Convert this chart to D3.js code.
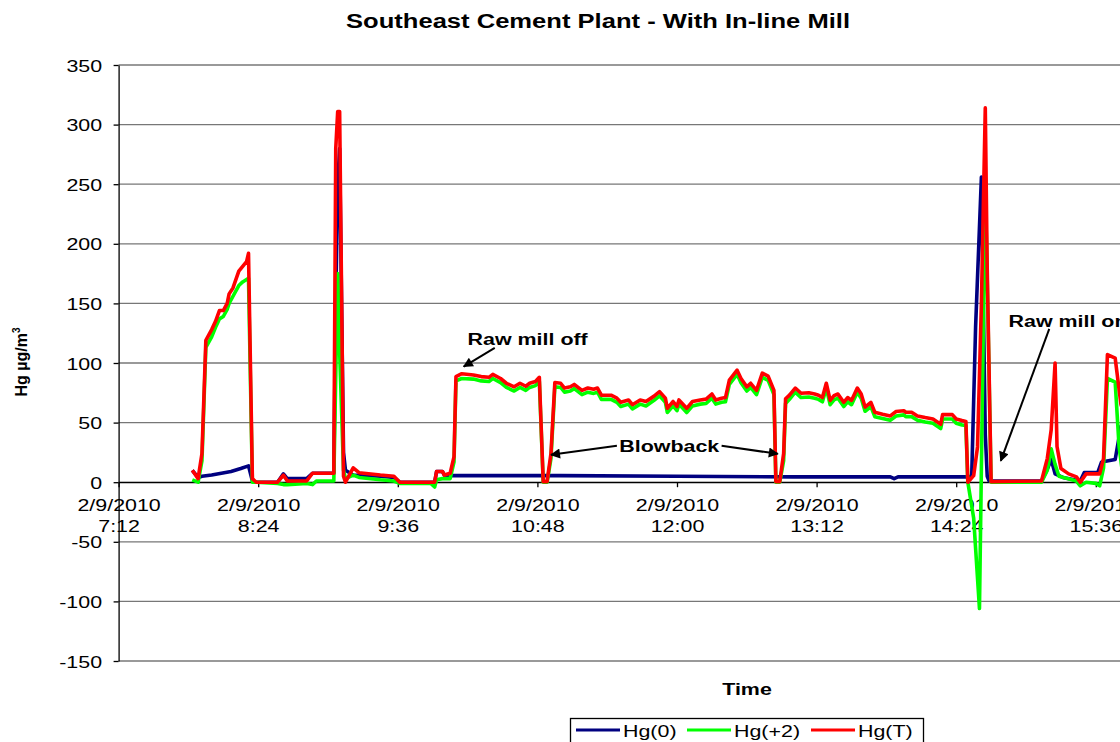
<!DOCTYPE html>
<meta charset="utf-8">

<!-- Load d3.js -->
<script src="https://d3js.org/d3.v7.min.js"></script>

<style>
  body { margin: 0; overflow: hidden; background: #fff; }
  text { font-family: "Liberation Sans", Arial, sans-serif; }
</style>

<!-- Create a div where the graph will take place -->
<div id="my_dataviz"></div>

<script>

    // readings: [time, value in ug/m3]
    var hg0 = [
      ["7:50",10],["7:53",4],["7:55",5],["8:00",6],["8:05",7.5],["8:10",9],["8:15",11.5],["8:19",13.7],
      ["8:21",1],["8:23",0],["8:34",0],["8:37",7],["8:39",3],["8:49",3],["8:52",7.5],["9:03",7.5],
      ["9:04",150],["9:05",250],["9:06",280],["9:07",150],["9:08",25],["9:09",10],["9:13",6],["9:27",5],
      ["9:34",4],["9:37",0],["9:55",0],["9:56",9],["9:59",9],["10:00",6],["10:03",5.5],["11:00",5.5],
      ["12:00",5],["13:00",4.5],["13:50",4.5],["13:52",3],["13:54",4.5],["14:29",4.5],["14:32",5],
      ["14:34",130],["14:37",256],["14:39",40],["14:40",5],["14:41",1],["15:08",1],["15:11",11],["15:13",19],
      ["15:15",7],["15:19",4],["15:28",1],["15:30",8],["15:37",8],["15:39",17],["15:46",19],["15:49",47],
      ["15:58",45]
    ];

    var hg2 = [
      ["7:50",2],["7:53",0],["7:55",18],["7:57",113],["8:00",122],["8:02",130],["8:04",137],["8:06",139],
      ["8:08",145],["8:09",150],["8:11",156],["8:14",165],["8:16",168],["8:18",170],["8:19",171],["8:21",0],
      ["8:23",0],["8:34",-1],["8:37",-2],["8:39",-2],["8:49",-1],["8:52",-2],["8:54",1],["9:03",1],
      ["9:04",90],["9:05",175],["9:06",110],["9:08",10],["9:09",3],["9:13",6],["9:16",4],["9:27",2],
      ["9:34",1],["9:37",-1],["9:53",-1],["9:55",-4],["9:56",2],["9:59",3],["10:03",3],["10:05",17],
      ["10:06",85],["10:09",87],["10:15",86.5],["10:19",85],["10:23",84.5],["10:25",87],["10:29",83.5],
      ["10:32",79.5],["10:36",76.5],["10:39",79.5],["10:42",77],["10:44",79.5],["10:47",81],["10:49",84.5],
      ["10:51",0],["10:53",0],["10:55",20],["10:57",80],["11:00",79.5],["11:02",75.5],["11:05",76.5],
      ["11:07",78.5],["11:11",73.5],["11:14",75.5],["11:17",74.5],["11:19",75.5],["11:21",69.5],["11:24",69.5],
      ["11:26",69.5],["11:29",67],["11:31",63.5],["11:35",65.5],["11:37",61.5],["11:41",65.5],["11:44",64],
      ["11:48",68.5],["11:51",72.5],["11:54",67],["11:55",58.5],["11:58",64],["12:00",60],["12:01",65.5],
      ["12:05",58.5],["12:08",64],["12:12",65.5],["12:15",66],["12:18",70.5],["12:20",65.5],["12:23",67],
      ["12:25",67.5],["12:27",82],["12:31",90.5],["12:33",83.5],["12:36",76.5],["12:38",79.5],["12:41",73.5],
      ["12:44",88],["12:47",85.5],["12:50",73.5],["12:51",0],["12:53",0],["12:55",18],["12:56",66],
      ["12:58",69.5],["13:01",75.5],["13:04",71],["13:08",71.5],["13:11",70.5],["13:13",69.5],["13:15",67.5],
      ["13:17",79],["13:19",65],["13:21",69],["13:23",70.5],["13:26",63.5],["13:28",67.5],["13:30",65],
      ["13:33",75.5],["13:35",70.5],["13:37",59.5],["13:40",63.5],["13:42",55],["13:46",53.5],["13:50",52],
      ["13:53",55.5],["13:57",56.5],["13:58",55],["14:01",55],["14:04",52],["14:08",50.5],["14:12",49.5],
      ["14:16",45],["14:17",53],["14:22",53],["14:24",49.5],["14:27",48],["14:29",47.5],["14:30",0],
      ["14:33",-30],["14:36",-106],["14:39",250],["14:40",170],["14:42",0],["15:08",0],["15:11",10],
      ["15:13",28],["15:15",15],["15:17",5],["15:26",1],["15:28",-3],["15:31",0],["15:36",-1],["15:38",-3],
      ["15:40",12],["15:42",87],["15:46",84],["15:48",30],["15:50",5],["15:58",4]
    ];

    var hgT = [
      ["7:50",10],["7:53",3],["7:55",24],["7:57",119],["8:00",128],["8:02",135],["8:04",144],["8:06",144],
      ["8:08",150],["8:09",158],["8:11",163],["8:14",177],["8:16",181],["8:18",185],["8:19",192],["8:21",3],
      ["8:23",0],["8:34",0],["8:37",6],["8:39",1],["8:49",1],["8:52",7.5],["9:03",7.5],["9:04",280],
      ["9:05",311],["9:06",311],["9:08",5],["9:09",0],["9:13",12],["9:16",8],["9:27",6],["9:34",5],
      ["9:37",0],["9:55",0],["9:56",9],["9:59",9],["10:00",6],["10:03",7.5],["10:05",21.5],["10:06",88.6],
      ["10:09",91],["10:15",90],["10:19",88.6],["10:23",88],["10:25",90.5],["10:29",87],["10:32",83],
      ["10:36",80],["10:39",83],["10:42",80.5],["10:44",83],["10:47",84.5],["10:49",88],["10:51",0.5],
      ["10:53",0.5],["10:55",24],["10:57",83.6],["11:00",83],["11:02",79],["11:05",80],["11:07",82],
      ["11:11",77],["11:14",79],["11:17",78],["11:19",79],["11:21",73],["11:24",73],["11:26",73],
      ["11:29",70.5],["11:31",67],["11:35",69],["11:37",65],["11:41",69],["11:44",67.7],["11:48",72],
      ["11:51",76],["11:54",70.5],["11:55",62],["11:58",67.7],["12:00",63.5],["12:01",69],["12:05",62],
      ["12:08",67.7],["12:12",69],["12:15",69.7],["12:18",74],["12:20",69],["12:23",70.5],["12:25",71],
      ["12:27",85.6],["12:31",94],["12:33",87],["12:36",80],["12:38",83],["12:41",77],["12:44",91.5],
      ["12:47",89],["12:50",77],["12:51",0.5],["12:53",0.5],["12:55",24],["12:56",70],["12:58",73],
      ["13:01",79],["13:04",74.6],["13:08",75],["13:11",74],["13:13",73],["13:15",71],["13:17",83],
      ["13:19",68.6],["13:21",72.6],["13:23",74],["13:26",67],["13:28",71],["13:30",68.6],["13:33",79],
      ["13:35",74],["13:37",63],["13:40",67],["13:42",58.7],["13:46",57],["13:50",55.6],["13:53",59.3],
      ["13:57",60],["13:58",58.7],["14:01",58.7],["14:04",55.6],["14:08",54.2],["14:12",53],["14:16",48.7],
      ["14:17",56.7],["14:22",56.7],["14:24",53],["14:27",51.7],["14:29",51],["14:30",0],["14:33",5.5],
      ["14:35",29.6],["14:37",150],["14:39",314],["14:40",179],["14:42",0.5],["15:08",1],["15:11",20],
      ["15:13",44],["15:15",100],["15:16",30],["15:18",11.5],["15:22",7],["15:26",4.5],["15:28",0],
      ["15:31",7],["15:38",7],["15:40",20],["15:42",107],["15:46",104],["15:49",65],["15:52",52],
      ["15:58",50]
    ];

    var seriesNames = ["Hg(0)", "Hg(+2)", "Hg(T)"];
    var seriesColors = ["#000080", "#00ff00", "#ff0000"];

    var xTicks = ["7:12", "8:24", "9:36", "10:48", "12:00", "13:12", "14:24", "15:36", "16:48", "18:00"];
    var xDate = "2/9/2010";
    var yTicks = [-150, -100, -50, 0, 50, 100, 150, 200, 250, 300, 350];

    // annotations: text anchor point and arrows [from, to] in data units
    var notes = [
      {text: "Raw mill off", at: ["10:12", 115], anchor: "start"},
      {text: "Blowback", at: ["11:56", 25], anchor: "middle"},
      {text: "Raw mill on", at: ["14:51", 130], anchor: "start"}
    ];
    var arrows = [
      [["10:26", 112.6], ["10:10", 97]],
      [["11:29", 30.5], ["10:55", 23]],
      [["12:23", 30.5], ["12:52", 23.8]],
      [["15:12", 128.6], ["14:47", 17.9]]
    ];

    // the original picture is stretched sideways, so is its text
    var sx = 1.26;
    function place(sel, px, py) {
      return sel.attr("transform", "translate(" + px + "," + py + ") scale(" + sx + ",1)");
    }

    var svg = d3.select("#my_dataviz")
      .append("svg")
        .attr("width", 1120)
        .attr("height", 742)
        .style("display", "block");

    var parseTime = d3.timeParse("%H:%M");

    // plot area runs past the right edge of the picture
    var x = d3.scaleTime()
      .domain([parseTime("7:12"), parseTime("18:00")])
      .range([118.6, 1375]);
    var y = d3.scaleLinear()
      .domain([-150, 350])
      .range([661, 65]);

    // gridlines
    svg.append("g")
      .selectAll("line")
      .data(yTicks)
      .enter()
      .append("line")
        .attr("x1", x.range()[0])
        .attr("x2", x.range()[1])
        .attr("y1", function (d) { return y(d); })
        .attr("y2", function (d) { return y(d); })
        .attr("stroke", "#777")
        .attr("stroke-width", 1.3);

    // Add Y axis
    var yAxis = svg.append("g")
      .attr("transform", "translate(" + x.range()[0] + ",0)")
      .attr("font-family", null)
      .call(d3.axisLeft(y)
        .tickValues(yTicks)
        .tickFormat(function (d) { return String(d); }) // plain hyphen, not U+2212
        .tickSize(5)
        .tickSizeOuter(0));
    yAxis.select(".domain").attr("stroke", "#000").attr("stroke-width", 1.3);
    yAxis.selectAll(".tick line").attr("stroke", "#000").attr("stroke-width", 1.3);
    yAxis.selectAll(".tick text")
      .attr("x", 0)
      .attr("dy", "0.36em")
      .attr("fill", "#000")
      .attr("font-size", "17px")
      .attr("transform", "translate(-16.5,0) scale(" + sx + ",1)");

    // Add X axis at zero
    var xAxis = svg.append("g")
      .attr("transform", "translate(0," + y(0) + ")")
      .attr("font-family", null)
      .call(d3.axisBottom(x)
        .tickValues(xTicks.map(parseTime))
        .tickFormat("")
        .tickSize(5)
        .tickSizeOuter(0));
    xAxis.select(".domain").attr("stroke", "#000").attr("stroke-width", 1.3);
    xAxis.selectAll(".tick line").attr("stroke", "#000").attr("stroke-width", 1.3);
    xAxis.selectAll(".tick text").remove();
    xAxis.selectAll(".tick").each(function (d) {
      var t = d3.select(this);
      place(t.append("text"), 0, 29)
        .attr("text-anchor", "middle").attr("font-size", "17px").attr("fill", "#000")
        .text(xDate);
      place(t.append("text"), 0, 50)
        .attr("text-anchor", "middle").attr("font-size", "17px").attr("fill", "#000")
        .text(d3.timeFormat("%-H:%M")(d));
    });

    // lines
    var line = d3.line()
      .x(function (d) { return x(parseTime(d[0])); })
      .y(function (d) { return y(d[1]); });

    [hg0, hg2, hgT].forEach(function (s, i) {
      svg.append("path")
        .datum(s)
        .attr("fill", "none")
        .attr("stroke", seriesColors[i])
        .attr("stroke-width", 3.6)
        .attr("stroke-linejoin", "round")
        .attr("d", line);
    });

    // arrows
    svg.append("defs").append("marker")
        .attr("id", "head")
        .attr("viewBox", "0 0 10 10")
        .attr("refX", 9)
        .attr("refY", 5)
        .attr("markerUnits", "userSpaceOnUse")
        .attr("markerWidth", 13)
        .attr("markerHeight", 10)
        .attr("orient", "auto")
      .append("path")
        .attr("d", "M0,0L10,5L0,10z")
        .attr("fill", "#000");

    svg.append("g")
      .selectAll("line")
      .data(arrows)
      .enter()
      .append("line")
        .attr("x1", function (d) { return x(parseTime(d[0][0])); })
        .attr("y1", function (d) { return y(d[0][1]); })
        .attr("x2", function (d) { return x(parseTime(d[1][0])); })
        .attr("y2", function (d) { return y(d[1][1]); })
        .attr("stroke", "#000")
        .attr("stroke-width", 2)
        .attr("marker-end", "url(#head)");

    notes.forEach(function (n) {
      place(svg.append("text"), x(parseTime(n.at[0])), y(n.at[1]))
        .attr("text-anchor", n.anchor)
        .attr("font-size", "17px")
        .attr("font-weight", "bold")
        .text(n.text);
    });

    // titles
    place(svg.append("text"), 598, 28)
      .attr("text-anchor", "middle")
      .attr("font-size", "20.3px")
      .attr("font-weight", "bold")
      .text("Southeast Cement Plant - With In-line Mill");

    place(svg.append("text"), 747, 695)
      .attr("text-anchor", "middle")
      .attr("font-size", "17px")
      .attr("font-weight", "bold")
      .text("Time");

    var yTitle = svg.append("text")
      .attr("transform", "translate(27,362) rotate(-90)")
      .attr("text-anchor", "middle")
      .attr("font-size", "16px")
      .attr("font-weight", "bold");
    yTitle.append("tspan").text("Hg \u00b5g/m");
    yTitle.append("tspan").attr("font-size", "10px").attr("dy", "-7").text("3");

    // legend
    var legend = svg.append("g");
    legend.append("rect")
      .attr("x", 570.5).attr("y", 718.5)
      .attr("width", 353).attr("height", 40)
      .attr("fill", "#fff")
      .attr("stroke", "#000")
      .attr("stroke-width", 1.3);
    var legendX = [576, 687, 811];
    seriesNames.forEach(function (name, i) {
      legend.append("line")
        .attr("x1", legendX[i]).attr("x2", legendX[i] + 44)
        .attr("y1", 730).attr("y2", 730)
        .attr("stroke", seriesColors[i])
        .attr("stroke-width", 3.2);
      place(legend.append("text"), legendX[i] + 47, 737)
        .attr("font-size", "17px")
        .text(name);
    });

</script>
